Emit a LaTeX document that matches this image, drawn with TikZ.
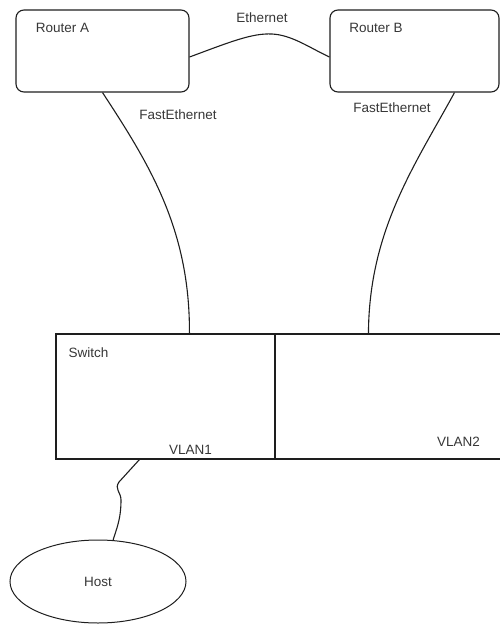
\documentclass[tikz,border=0pt]{standalone}
\usepackage{fontspec}
\setmainfont{Liberation Sans}
\usetikzlibrary{shapes.geometric, positioning}
\definecolor{inkline}{RGB}{30,30,30}
\definecolor{inktext}{RGB}{55,55,55}
\tikzset{
  router/.style={rectangle, rounded corners=8pt, draw=inkline, line width=1.1pt,
    minimum width=173pt, minimum height=82pt, inner sep=0pt},
  port/.style={rectangle, draw=inkline, line width=1.1pt,
    minimum height=125pt, inner sep=0pt},
  hostbox/.style={ellipse, draw=inkline, line width=1pt, minimum width=176pt,
    minimum height=83pt, inner sep=0pt, text=inktext,
    font=\fontsize{13.5}{15}\selectfont},
  tag/.style={font=\fontsize{13.5}{15}\selectfont, text=inktext, inner sep=0pt},
  link/.style={draw=inkline, line width=1.1pt},
}

\begin{document}
\begin{tikzpicture}[x=1pt, y=-1pt]
  \useasboundingbox (0,0) rectangle (500,625);

  % Routers
  \node[router]                    (ra) at (102.5,51) {};
  \node[router, minimum width=169pt] (rb) at (414.5,51) {};
  \node[tag] (ralbl) at (62.5,28) {Router A};
  \node[tag] (rblbl) at (376,28)  {Router B};

  % Switch with its two VLANs
  \node[port, minimum width=219pt] (vlan1) at (165.5,396.5) {};
  \node[port, minimum width=226pt] (vlan2) at (388,396.5)   {};
  \node[tag] (swlbl) at (88.5,353)  {Switch};
  \node[tag] (v1lbl) at (190.5,450) {VLAN1};
  \node[tag] (v2lbl) at (458.5,442) {VLAN2};

  % Host
  \node[hostbox] (host) at (98,581.5) {Host};

  % Links
  \draw[link] ([yshift=-6pt]ra.east) .. controls (230,42) and (252,33) .. (272,34)
              .. controls (292,35) and (310,48) .. ([yshift=-6pt]rb.west);
  \draw[link] (ra.south) .. controls (150,165) and (190,230) .. ([xshift=134pt]vlan1.north west);
  \draw[link] ([xshift=40pt]rb.south) .. controls (415,165) and (369,230) .. ([xshift=94pt]vlan2.north west);
  \draw[link] ([xshift=84pt]vlan1.south west) -- (119,482)
              .. controls (114,489) and (121,492) .. (121,500)
              .. controls (121,520) and (116,530) .. (host.70);

  % Link labels
  \node[tag] (ethlbl) at (262,18)  {Ethernet};
  \node[tag] (fealbl) at (178,115) {FastEthernet};
  \node[tag] (feblbl) at (392,108) {FastEthernet};
\end{tikzpicture}
\end{document}
